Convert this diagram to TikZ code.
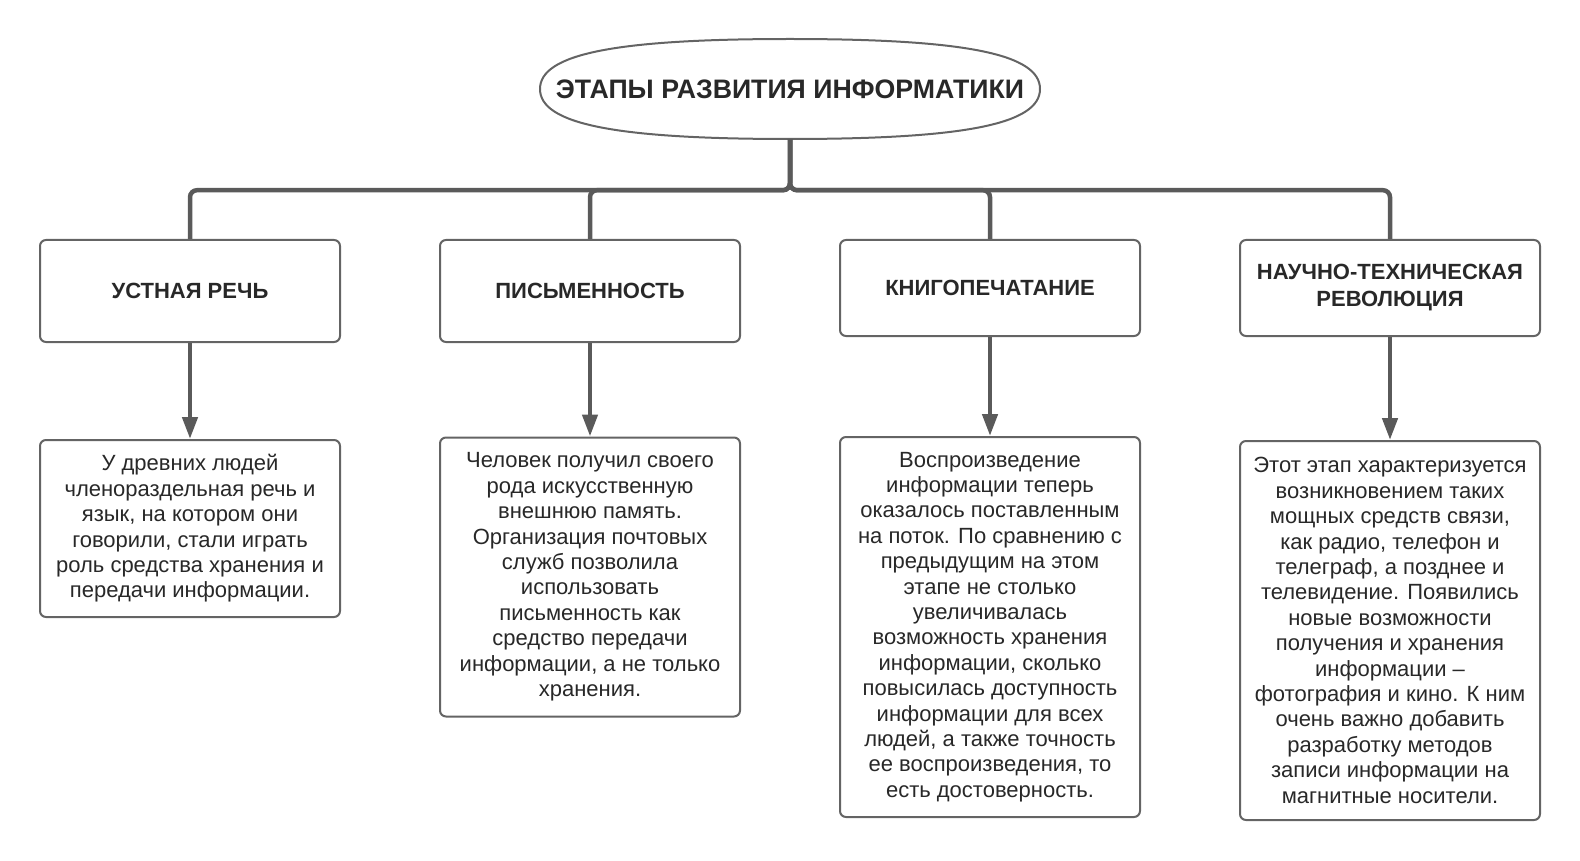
\documentclass[tikz,border=0pt]{standalone}
\usepackage{fontspec}
\setmainfont{Liberation Sans}
\usetikzlibrary{arrows.meta}
\definecolor{linegray}{RGB}{90,90,90}
\definecolor{framegray}{RGB}{100,100,100}
\definecolor{textdark}{RGB}{40,40,40}

\begin{document}
\begin{tikzpicture}[x=1pt,y=-1pt,
  stagebox/.style={draw=framegray,line width=2pt,rounded corners=6pt,fill=white,
    minimum width=300pt,inner sep=0pt,align=center,text=textdark,
    font=\bfseries\fontsize{22}{27}\selectfont},
  notebox/.style={draw=framegray,line width=2pt,rounded corners=6pt,fill=white,
    minimum width=300pt,inner sep=0pt,align=center,text=textdark,
    font=\fontsize{22}{25.4}\selectfont},
  conn/.style={linegray,line width=4.5pt,rounded corners=7pt},
  arr/.style={linegray,line width=4.5pt,-{Triangle[length=22pt,width=15pt]}}]
  \useasboundingbox (0,0) rectangle (1580,861);
  \node[inner sep=0pt,minimum width=500pt,minimum height=100pt,text=textdark,
    font=\bfseries\fontsize{26.7}{30}\selectfont] (title) at (790,89) {ЭТАПЫ РАЗВИТИЯ ИНФОРМАТИКИ};
  \draw[framegray,line width=2pt] (540,89) .. controls (540,54) and (615,39) .. (790,39)
    .. controls (965,39) and (1040,54) .. (1040,89)
    .. controls (1040,124) and (965,139) .. (790,139)
    .. controls (615,139) and (540,124) .. (540,89);

  \node[stagebox,minimum height=102pt] (oral) at (190,291) {УСТНАЯ РЕЧЬ};
  \node[stagebox,minimum height=102pt] (writing) at (590,291) {ПИСЬМЕННОСТЬ};
  \node[stagebox,minimum height=96pt] (printing) at (990,288) {КНИГОПЕЧАТАНИЕ};
  \node[stagebox,minimum height=96pt] (science) at (1390,288) {НАУЧНО-ТЕХНИЧЕСКАЯ\\РЕВОЛЮЦИЯ};

  \node[notebox,minimum height=177pt] (oralnote) at (190,528.5)
    {У древних людей\\членораздельная речь и\\язык, на котором они\\говорили, стали играть\\роль средства хранения и\\передачи информации.};
  \node[notebox,minimum height=279pt] (writingnote) at (590,577)
    {Человек получил своего\\рода искусственную\\внешнюю память.\\Организация почтовых\\служб позволила\\использовать\\письменность как\\средство передачи\\информации, а не только\\хранения.};
  \node[notebox,minimum height=380pt] (printingnote) at (990,627)
    {Воспроизведение\\информации теперь\\оказалось поставленным\\на поток. По сравнению с\\предыдущим на этом\\этапе не столько\\увеличивалась\\возможность хранения\\информации, сколько\\повысилась доступность\\информации для всех\\людей, а также точность\\ее воспроизведения, то\\есть достоверность.};
  \node[notebox,minimum height=379pt] (sciencenote) at (1390,630.5)
    {Этот этап характеризуется\\возникновением таких\\мощных средств связи,\\как радио, телефон и\\телеграф, а позднее и\\телевидение. Появились\\новые возможности\\получения и хранения\\информации –\\фотография и кино. К ним\\очень важно добавить\\разработку методов\\записи информации на\\магнитные носители.};

  \draw[conn] (title.south) -- ++(0,51) -| (oral.north);
  \draw[conn] (title.south) -- ++(0,51) -| (writing.north);
  \draw[conn] (title.south) -- ++(0,51) -| (printing.north);
  \draw[conn] (title.south) -- ++(0,51) -| (science.north);

  \draw[arr] (oral.south) -- (oralnote.north);
  \draw[arr] (writing.south) -- (writingnote.north);
  \draw[arr] (printing.south) -- (printingnote.north);
  \draw[arr] (science.south) -- (sciencenote.north);
\end{tikzpicture}
\end{document}
